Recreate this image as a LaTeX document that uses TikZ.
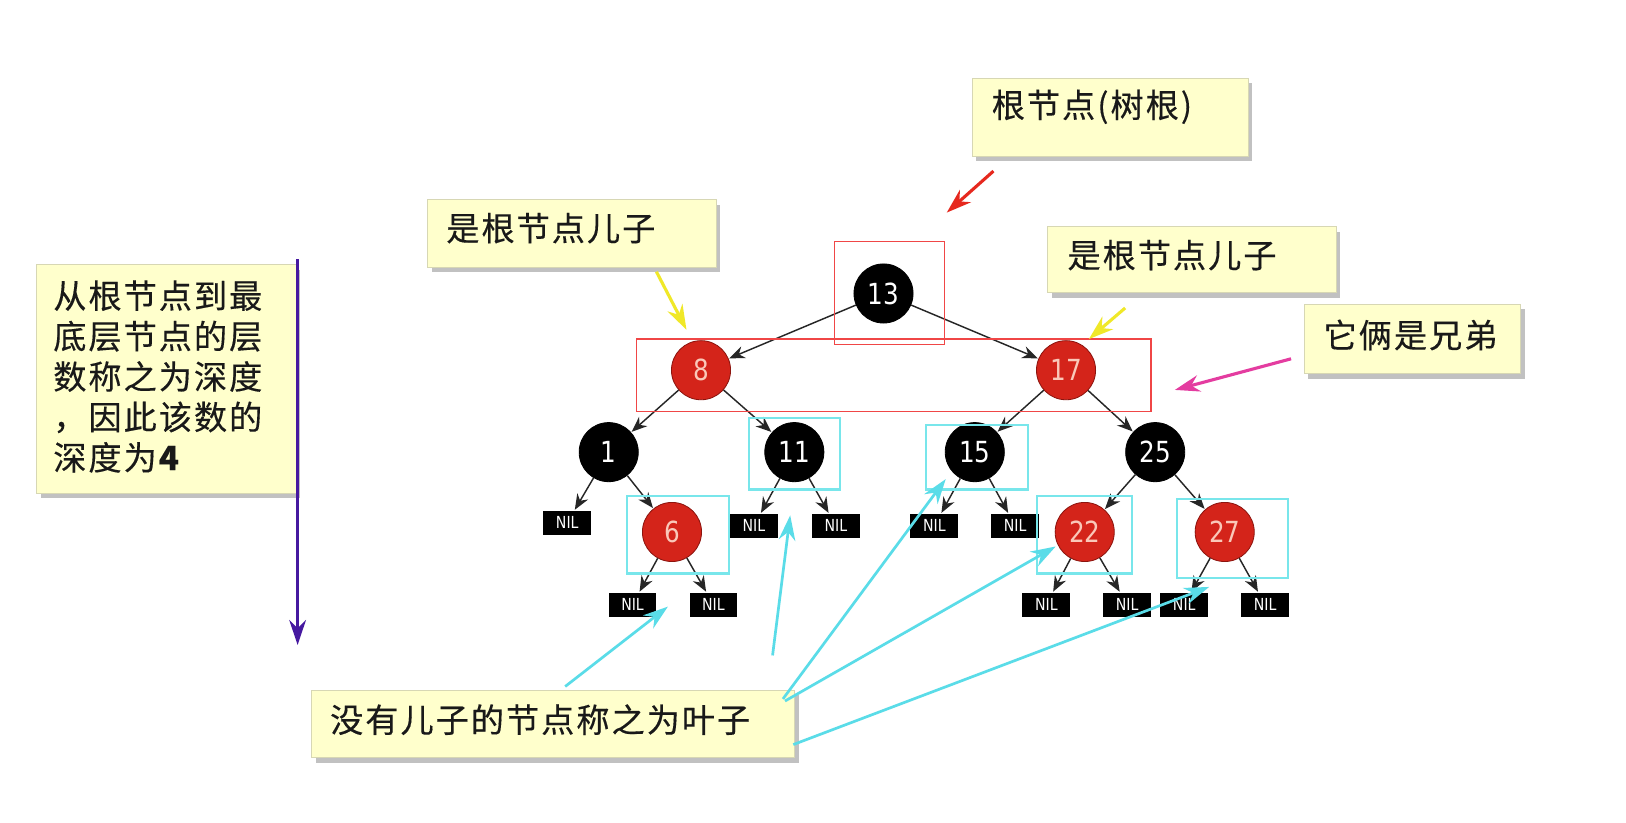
\documentclass[tikz,border=0pt]{standalone}
\usepackage{fontspec}
\setmainfont{DejaVu Sans}
\newfontfamily\cjk[LetterSpace=6,FakeBold=0.3]{Noto Sans CJK SC}
\newfontfamily\numfont[FakeStretch=0.85]{DejaVu Sans}
\usetikzlibrary{arrows.meta,shadows}
\definecolor{notefill}{RGB}{255,255,204}
\definecolor{noteedge}{RGB}{215,215,180}
\definecolor{rbfill}{RGB}{212,36,26}
\definecolor{rbdraw}{RGB}{140,20,14}
\definecolor{rbtext}{RGB}{250,200,185}
\definecolor{redframe}{RGB}{240,70,70}
\definecolor{cyanframe}{RGB}{120,230,235}
\definecolor{cyanarrow}{RGB}{90,220,232}
\definecolor{purplearrow}{RGB}{70,25,160}
\definecolor{magentaarrow}{RGB}{228,60,160}
\definecolor{yellowarrow}{RGB}{240,232,40}
\definecolor{redarrow}{RGB}{230,40,30}
\tikzset{
  notebox/.style={rectangle, fill=notefill, draw=noteedge, line width=0.3pt, inner sep=0pt,
    drop shadow={shadow xshift=2pt, shadow yshift=-2.5pt, opacity=0.4, fill=black!60}},
  notetext/.style={inner sep=0pt, text=black!90, font=\cjk\fontsize{16}{19.5}\selectfont},
  blk/.style={circle, fill=black, draw=black, minimum width=27.5pt, minimum height=28.5pt, inner sep=0pt, text=white,
    font=\numfont\fontsize{14}{14}\selectfont},
  rd/.style={blk, fill=rbfill, draw=rbdraw, text=rbtext},
  nil/.style={rectangle, fill=black, minimum width=23pt, minimum height=11.5pt, inner sep=0pt,
    text=white, font=\numfont\fontsize{8}{8}\selectfont},
  edge/.style={-{Stealth[length=7.5pt,width=6pt]}, draw=black!85, line width=0.7pt, shorten >=0.3pt},
  redrect/.style={rectangle, draw=redframe, line width=0.6pt, inner sep=0pt},
  cyanrect/.style={rectangle, draw=cyanframe, line width=1pt, inner sep=0pt},
  callout/.style={-{Stealth[length=12pt,width=8pt]}, line width=1.5pt},
}
\begin{document}
\begin{tikzpicture}[x=0.5pt,y=-0.5pt]
\useasboundingbox[fill=white] (0,0) rectangle (1568,793);

% note boxes
\node[notebox, anchor=north west, minimum width=125pt, minimum height=110pt] (bDepth) at (35,255) {};
\node[notebox, anchor=north west, minimum width=133pt, minimum height=37.5pt] (bRoot) at (937,75) {};
\node[notebox, anchor=north west, minimum width=139pt, minimum height=32.5pt] (bChildL) at (412,192) {};
\node[notebox, anchor=north west, minimum width=139pt, minimum height=32pt] (bChildR) at (1010,218) {};
\node[notebox, anchor=north west, minimum width=104.5pt, minimum height=33.5pt] (bSib) at (1257,293) {};
\node[notebox, anchor=north west, minimum width=233pt, minimum height=32.5pt] (bLeaf) at (300,665) {};

\node[notetext, anchor=north west, align=left] (tDepth) at (51,270)
  {从根节点到最\\底层节点的层\\数称之为深度\\，因此该数的\\深度为\textbf{4}};
\node[notetext, anchor=west] (tRoot) at (956,103) {根节点(树根)};
\node[notetext, anchor=west] (tChildL) at (430,220) {是根节点儿子};
\node[notetext, anchor=west] (tChildR) at (1029,246) {是根节点儿子};
\node[notetext, anchor=west] (tSib) at (1276,323) {它俩是兄弟};
\node[notetext, anchor=west] (tLeaf) at (318,694) {没有儿子的节点称之为叶子};

% tree
\node[blk] (n13) at (852,283) {13};
\node[rd]  (n8)  at (676,357) {8};
\node[rd]  (n17) at (1028,357) {17};
\node[blk] (n1)  at (587,436) {1};
\node[blk] (n11) at (766,436) {11};
\node[blk] (n15) at (940,436) {15};
\node[blk] (n25) at (1114,436) {25};
\node[rd]  (n6)  at (648,513) {6};
\node[rd]  (n22) at (1046,513) {22};
\node[rd]  (n27) at (1181,513) {27};

\node[nil] (nil1)   at (547,504) {NIL};
\node[nil] (nil11a) at (727,507) {NIL};
\node[nil] (nil11b) at (806,507) {NIL};
\node[nil] (nil15a) at (901,507) {NIL};
\node[nil] (nil15b) at (979,507) {NIL};
\node[nil] (nil6a)  at (610,583) {NIL};
\node[nil] (nil6b)  at (688,583) {NIL};
\node[nil] (nil22a) at (1009,583) {NIL};
\node[nil] (nil22b) at (1087,583) {NIL};
\node[nil] (nil27a) at (1142,583) {NIL};
\node[nil] (nil27b) at (1220,583) {NIL};

\draw[edge] (n13) -- (n8);
\draw[edge] (n13) -- (n17);
\draw[edge] (n8) -- (n1);
\draw[edge] (n8) -- (n11);
\draw[edge] (n17) -- (n15);
\draw[edge] (n17) -- (n25);
\draw[edge] (n1) -- (nil1);
\draw[edge] (n1) -- (n6);
\draw[edge] (n11) -- (nil11a);
\draw[edge] (n11) -- (nil11b);
\draw[edge] (n15) -- (nil15a);
\draw[edge] (n15) -- (nil15b);
\draw[edge] (n25) -- (n22);
\draw[edge] (n25) -- (n27);
\draw[edge] (n6) -- (nil6a);
\draw[edge] (n6) -- (nil6b);
\draw[edge] (n22) -- (nil22a);
\draw[edge] (n22) -- (nil22b);
\draw[edge] (n27) -- (nil27a);
\draw[edge] (n27) -- (nil27b);

% frames
\node[redrect, minimum width=53pt, minimum height=49.5pt] (fRoot) at (858,282.5) {};
\node[redrect, minimum width=248pt, minimum height=35pt] (fLevel) at (862,362) {};
\node[cyanrect, minimum width=44pt, minimum height=34.5pt] (f11) at (766,437.5) {};
\node[cyanrect, minimum width=49pt, minimum height=31pt] (f15) at (942,441) {};
\node[cyanrect, minimum width=49pt, minimum height=37.5pt] (f6) at (654,515.5) {};
\node[cyanrect, minimum width=46pt, minimum height=37.5pt] (f22) at (1046,515.5) {};
\node[cyanrect, minimum width=53.5pt, minimum height=38pt] (f27) at (1188.5,519) {};

% callout arrows
\coordinate (pA) at (287,250); \coordinate (pB) at (287,622);
\draw[callout, purplearrow] (pA) -- (pB);
\coordinate (rA) at (958,165); \coordinate (rB) at (913,205);
\draw[callout, redarrow] (rA) -- (rB);
\coordinate (yA) at (633,262); \coordinate (yB) at (662,318);
\draw[callout, yellowarrow] (yA) -- (yB);
\coordinate (zA) at (1085,297); \coordinate (zB) at (1050,327);
\draw[callout, yellowarrow] (zA) -- (zB);
\coordinate (mA) at (1245,346); \coordinate (mB) at (1133,376);
\draw[callout, magentaarrow] (mA) -- (mB);

\coordinate (c1A) at (545,662); \coordinate (c1B) at (644,585);
\coordinate (c2A) at (745,632); \coordinate (c2B) at (762,497);
\coordinate (c3A) at (755,674); \coordinate (c3B) at (912,462);
\coordinate (c4A) at (757,676); \coordinate (c4B) at (1018,527);
\coordinate (c5A) at (765,718); \coordinate (c5B) at (1166,566);
\foreach \i in {1,...,5} {
  \draw[callout, cyanarrow, line width=1.3pt] (c\i A) -- (c\i B);
}
\end{tikzpicture}
\end{document}
